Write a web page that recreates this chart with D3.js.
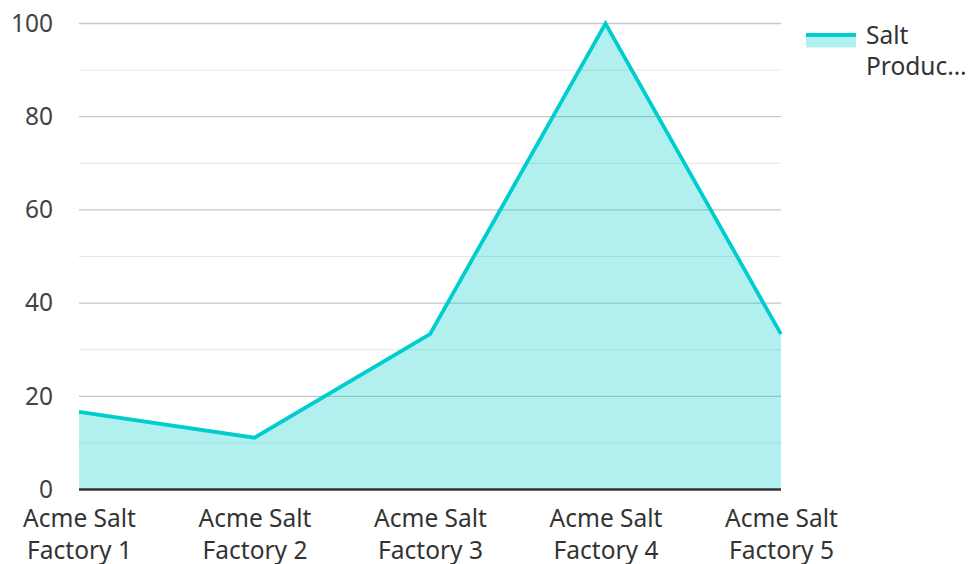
<!DOCTYPE html>
<html>
<head>
<meta charset="utf-8">
<script src="https://cdn.jsdelivr.net/npm/d3@7"></script>
<style>
  html, body { margin: 0; padding: 0; background: #fff; }
  svg { display: block; font-family: "Noto Sans", "Open Sans", sans-serif; }
</style>
</head>
<body>
<svg id="chart" width="968" height="564"></svg>
<script>
// Salt production per factory
const categories = ["Acme Salt Factory 1", "Acme Salt Factory 2", "Acme Salt Factory 3", "Acme Salt Factory 4", "Acme Salt Factory 5"];
const saltProduction = [16.67, 11.11, 33.33, 100, 33.33];
const yTicks = [0, 20, 40, 60, 80, 100];
const yMinorTicks = [10, 30, 50, 70, 90];
const seriesName = "Salt Production";

const W = 968, H = 564;
const margin = { left: 79, right: 187, top: 23.5, bottom: 74.5 };
const svg = d3.select("#chart");
const fontSize = 24.5;
const fontFamily = "'Noto Sans', 'Open Sans', sans-serif";

const x = d3.scalePoint().domain(categories).range([margin.left, W - margin.right]);
const y = d3.scaleLinear().domain([0, 100]).range([H - margin.bottom, margin.top]);

const lineColor = "#00cdcd";
const textColor = "#333";

// gridlines
const grid = svg.append("g");
grid.selectAll("line.minor").data(yMinorTicks).join("line")
  .attr("class", "minor")
  .attr("x1", margin.left).attr("x2", W - margin.right)
  .attr("y1", d => y(d)).attr("y2", d => y(d))
  .attr("stroke", "#e6e6e6").attr("stroke-width", 1);
grid.selectAll("line.major").data(yTicks.filter(d => d !== 0)).join("line")
  .attr("class", "major")
  .attr("x1", margin.left).attr("x2", W - margin.right)
  .attr("y1", d => y(d)).attr("y2", d => y(d))
  .attr("stroke", "#c6c6c6").attr("stroke-width", 1.3);

// area and line
const area = d3.area()
  .x((d, i) => x(categories[i]))
  .y0(y(0))
  .y1(d => y(d));
const line = d3.line()
  .x((d, i) => x(categories[i]))
  .y(d => y(d));

svg.append("path").datum(saltProduction)
  .attr("d", area)
  .attr("fill", lineColor).attr("fill-opacity", 0.3);
svg.append("path").datum(saltProduction)
  .attr("d", line)
  .attr("fill", "none").attr("stroke", lineColor)
  .attr("stroke-width", 3.8).attr("stroke-linejoin", "miter");

// baseline
svg.append("line")
  .attr("x1", margin.left).attr("x2", W - margin.right)
  .attr("y1", y(0)).attr("y2", y(0))
  .attr("stroke", "#333").attr("stroke-width", 2.5);

// y axis labels
const yAxis = d3.axisLeft(y).tickValues(yTicks).tickSize(0).tickPadding(26);
const gy = svg.append("g").attr("transform", `translate(${margin.left},0)`).call(yAxis);
gy.select(".domain").remove();
gy.selectAll("text").attr("font-size", fontSize).attr("fill", "#444")
  .attr("font-family", fontFamily);

// x axis labels (two lines)
const xAxis = d3.axisBottom(x).tickSize(0).tickFormat("");
const gx = svg.append("g").attr("transform", `translate(0,${y(0)})`).call(xAxis);
gx.select(".domain").remove();
gx.selectAll(".tick").each(function(d) {
  const words = d.split(" ");
  const lines = [words.slice(0, 2).join(" "), words.slice(2).join(" ")];
  const t = d3.select(this).append("text")
    .attr("text-anchor", "middle")
    .attr("font-family", fontFamily)
    .attr("font-size", fontSize).attr("fill", textColor);
  lines.forEach((l, i) => {
    t.append("tspan").attr("x", 0).attr("y", 37.3 + i * 32.3).text(l);
  });
});

// legend
const lg = svg.append("g").attr("transform", "translate(806,35)");
lg.append("rect").attr("x", 0).attr("y", 0).attr("width", 50).attr("height", 12.5)
  .attr("fill", lineColor).attr("fill-opacity", 0.3);
lg.append("line").attr("x1", 0).attr("x2", 50).attr("y1", 0).attr("y2", 0)
  .attr("stroke", lineColor).attr("stroke-width", 3.8);
const lt = lg.append("text").attr("font-family", fontFamily)
  .attr("font-size", fontSize).attr("fill", textColor);
lt.append("tspan").attr("x", 60).attr("y", 9.3).text("Salt");
lt.append("tspan").attr("x", 60).attr("y", 40).text("Produc…");
</script>
</body>
</html>
